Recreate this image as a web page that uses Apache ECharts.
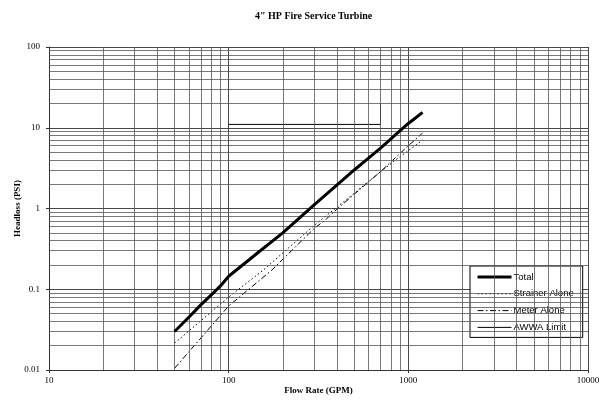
<!DOCTYPE html>
<html>
<head>
<meta charset="utf-8">
<script src="https://cdn.jsdelivr.net/npm/echarts@6/dist/echarts.min.js"></script>
<style>html,body{margin:0;padding:0;background:#fff;}#c{width:605px;height:408px;}</style>
</head>
<body>
<div id="c"></div>
<script>
const titleText = '4" HP Fire Service Turbine';
const xName = 'Flow Rate (GPM)';
const yName = 'Headloss (PSI)';
const seriesNames = ['Total', 'Strainer Alone', 'Meter Alone', 'AWWA Limit'];

const totalFlow = [50, 60, 70, 80, 90, 100, 150, 200, 300, 400, 500, 600, 700, 800, 900, 1000, 1100, 1200];
const totalHead = [0.03, 0.045, 0.064, 0.085, 0.11, 0.145, 0.30, 0.5, 1.12, 1.95, 3.0, 4.2, 5.6, 7.3, 9.2, 11.3, 13.3, 15.5];

const strainerFlow = [50, 100, 156, 300, 500, 700, 850, 1000, 1200];
const strainerHead = [0.0215, 0.08, 0.173, 0.62, 1.55, 2.85, 4.0, 5.2, 7.05];

const meterFlow = [50, 100, 174, 300, 345, 400, 500, 700, 1000, 1200];
const meterHead = [0.0105, 0.062, 0.173, 0.57, 0.72, 0.98, 1.5, 2.86, 6.0, 8.6];

const awwaFlow = [100, 700, 700];
const awwaHead = [11, 11, 20];

const xTicks = [10, 100, 1000, 10000];
const yTicks = [0.01, 0.1, 1, 10, 100];
const xMinor = [20,30,40,50,60,70,80,90,200,300,400,500,600,700,800,900,2000,3000,4000,5000,6000,7000,8000,9000];
const yMinor = [0.02,0.03,0.04,0.05,0.06,0.07,0.08,0.09,0.2,0.3,0.4,0.5,0.6,0.7,0.8,0.9,2,3,4,5,6,7,8,9,20,30,40,50,60,70,80,90];

function pairs(xs, ys) { return xs.map((x, i) => [x, ys[i]]); }

const serif = 'Liberation Serif';
const chart = echarts.init(document.getElementById('c'));
const gridLine = { color: '#555', width: 0.8, type: 'solid' };

const styles = [
  { color: '#000', width: 3, type: 'solid' },
  { color: '#000', width: 1, type: [1.5, 2.5] },
  { color: '#000', width: 1, type: [6, 2.5, 1.5, 2.5] },
  { color: '#000', width: 1, type: 'solid' }
];

chart.setOption({
  animation: false,
  backgroundColor: '#fff',
  title: {
    text: titleText,
    left: 250, top: 6,
    textStyle: { fontFamily: serif, fontWeight: 'bold', fontSize: 10, color: '#000' }
  },
  grid: { left: 49, right: 17, top: 47, bottom: 38, outerBoundsMode: 'none', containLabel: false },
  legend: {
    orient: 'vertical',
    left: 470, top: 266,
    padding: [6, 9, 5, 6],
    itemGap: 6.8,
    itemWidth: 34, itemHeight: 10,
    backgroundColor: '#fff',
    borderColor: '#000', borderWidth: 1,
    itemStyle: { opacity: 0 },
    data: seriesNames.map((n, i) => ({ name: n, lineStyle: styles[i] })),
    textStyle: { fontFamily: 'Liberation Sans', fontSize: 9.5, color: '#000', padding: [0, 0, 0, -3] }
  },
  xAxis: {
    type: 'log', logBase: 10, min: 10, max: 10000,
    name: xName, nameLocation: 'middle', nameGap: 16, nameMoveOverlap: false,
    nameTextStyle: { fontFamily: serif, fontWeight: 'bold', fontSize: 9, color: '#000' },
    axisLine: { lineStyle: { color: '#333', width: 1 } },
    axisTick: { show: true, length: 3, lineStyle: { color: '#333' } },
    axisLabel: { fontFamily: serif, fontSize: 9, color: '#000', margin: 6,
      formatter: v => String(+(+v).toPrecision(6)) },
    splitLine: { show: true, lineStyle: { color: '#333', width: 0.9 } }
  },
  yAxis: {
    type: 'log', logBase: 10, min: 0.01, max: 100,
    name: yName, nameLocation: 'middle', nameGap: 27, nameMoveOverlap: false,
    nameTextStyle: { fontFamily: serif, fontWeight: 'bold', fontSize: 9, color: '#000' },
    axisLine: { show: true, lineStyle: { color: '#333', width: 1 } },
    axisTick: { show: true, length: 3, lineStyle: { color: '#333' } },
    axisLabel: { fontFamily: serif, fontSize: 9, color: '#000', margin: 9,
      formatter: v => String(+(+v).toPrecision(6)) },
    splitLine: { show: true, lineStyle: { color: '#333', width: 0.9 } }
  },
  series: [
    {
      name: 'grid', type: 'line', data: [], silent: true,
      markLine: {
        silent: true, symbol: 'none', label: { show: false },
        lineStyle: gridLine, animation: false,
        data: xMinor.map(v => ({ xAxis: v })).concat(yMinor.map(v => ({ yAxis: v })))
      }
    },
    {
      name: seriesNames[0], type: 'line', data: pairs(totalFlow, totalHead),
      symbol: 'none', lineStyle: styles[0], itemStyle: { color: '#000' }, z: 5
    },
    {
      name: seriesNames[1], type: 'line', data: pairs(strainerFlow, strainerHead),
      symbol: 'none', lineStyle: styles[1], itemStyle: { color: '#000' }, z: 4
    },
    {
      name: seriesNames[2], type: 'line', data: pairs(meterFlow, meterHead),
      symbol: 'none', lineStyle: styles[2], itemStyle: { color: '#000' }, z: 4
    },
    {
      name: seriesNames[3], type: 'line', data: pairs(awwaFlow, awwaHead),
      symbol: 'none', lineStyle: styles[3], itemStyle: { color: '#000' }, z: 4
    }
  ]
});
</script>
</body>
</html>
